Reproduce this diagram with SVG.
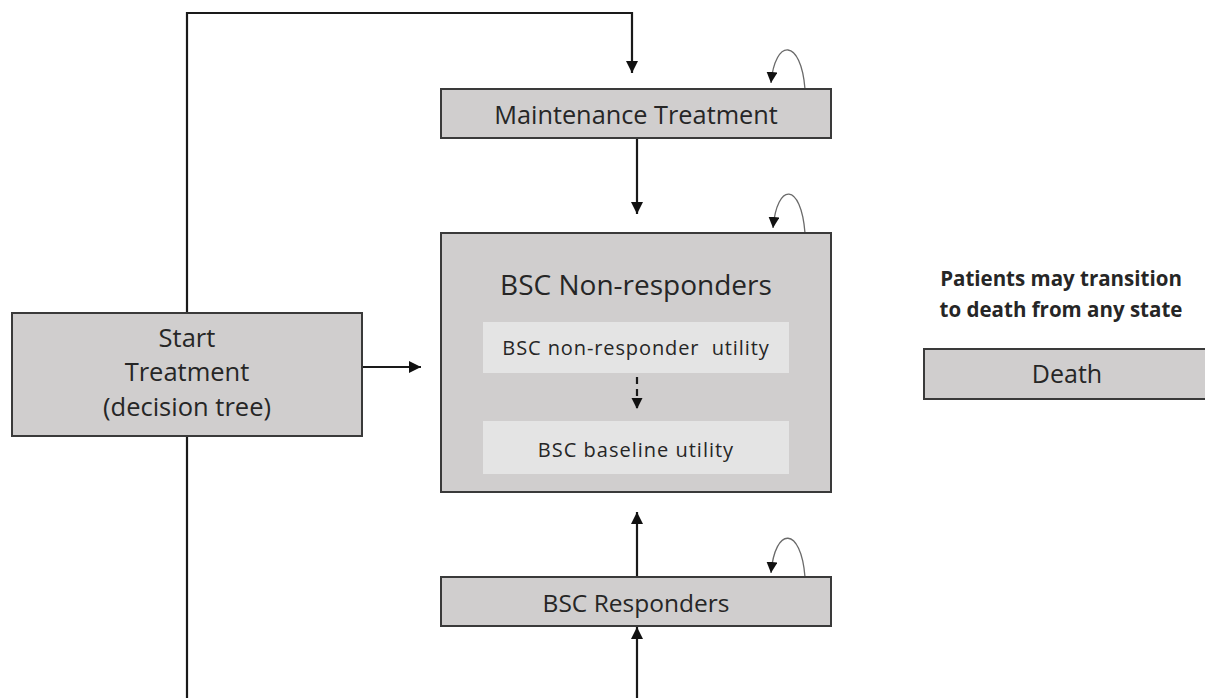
<svg xmlns="http://www.w3.org/2000/svg" width="1205" height="698" viewBox="0 0 1205 698">
<style>
.box{fill:#d0cece;stroke:#3a3a3a;stroke-width:2}
.inner{fill:#e4e4e4;stroke:none}
.t{font-family:"Open Sans","Liberation Sans",sans-serif;fill:#262626;text-anchor:middle}
.c{fill:none;stroke:#1a1a1a;stroke-width:2.2}
.loop{fill:none;stroke:#6a6a6a;stroke-width:1.3}
</style>
<defs>
<marker id="ah" markerUnits="userSpaceOnUse" markerWidth="14" markerHeight="14" refX="12" refY="6" orient="auto">
<path d="M0,0 L12,6 L0,12 Z" fill="#111"/>
</marker>
<marker id="ahs" markerUnits="userSpaceOnUse" markerWidth="14" markerHeight="14" refX="11" refY="5.5" orient="auto">
<path d="M0,0 L11,5.5 L0,11 Z" fill="#111"/>
</marker>
</defs>
<rect width="1205" height="698" fill="#fff"/>
<g id="connectors">
<path class="c" d="M187,312 V13 H632 V73" marker-end="url(#ah)"/>
<path class="c" d="M637,138 V214" marker-end="url(#ah)"/>
<path class="c" d="M362,367 H421" marker-end="url(#ah)"/>
<path class="c" d="M637,577 V512" marker-end="url(#ah)"/>
<path class="c" d="M187,436 V700 H637 V627" marker-end="url(#ah)"/>
<path class="loop" d="M805,89 C801,38 775,38 771,83" marker-end="url(#ahs)"/>
<path class="loop" d="M805,233 C801,182 777,182 773,228" marker-end="url(#ahs)"/>
<path class="loop" d="M805,577 C801,526 775,526 771,573" marker-end="url(#ahs)"/>
</g>
<g id="maintenance">
<rect class="box" x="441" y="89" width="390" height="49"/>
<text class="t" x="636" y="124" font-size="25.3">Maintenance Treatment</text>
</g>
<g id="non-responders">
<rect class="box" x="441" y="233" width="390" height="259"/>
<text class="t" x="636" y="295" font-size="28">BSC Non-responders</text>
<g id="nr-utility">
<rect class="inner" x="483" y="322" width="306" height="51"/>
<text class="t" x="636" y="355" font-size="20" letter-spacing="0.9" xml:space="preserve">BSC non-responder  utility</text>
</g>
<path d="M637,377 V409" fill="none" stroke="#1a1a1a" stroke-width="2.2" stroke-dasharray="7,5" marker-end="url(#ahs)"/>
<g id="baseline-utility">
<rect class="inner" x="483" y="421" width="306" height="53"/>
<text class="t" x="636" y="457" font-size="20" letter-spacing="1">BSC baseline utility</text>
</g>
</g>
<g id="responders">
<rect class="box" x="441" y="577" width="390" height="49"/>
<text class="t" x="636" y="612" font-size="24.5">BSC Responders</text>
</g>
<g id="start">
<rect class="box" x="12" y="313" width="350" height="123"/>
<text class="t" x="187" y="347" font-size="25.5">Start</text>
<text class="t" x="187" y="381" font-size="25.5">Treatment</text>
<text class="t" x="187" y="416" font-size="25.5">(decision tree)</text>
</g>
<g id="death-note">
<text class="t" x="1061" y="286" font-size="20.5" font-weight="bold">Patients may transition</text>
<text class="t" x="1061" y="317" font-size="20.5" font-weight="bold">to death from any state</text>
</g>
<g id="death">
<rect class="box" x="924" y="349" width="290" height="50"/>
<text class="t" x="1067" y="383" font-size="25">Death</text>
</g>
</svg>
